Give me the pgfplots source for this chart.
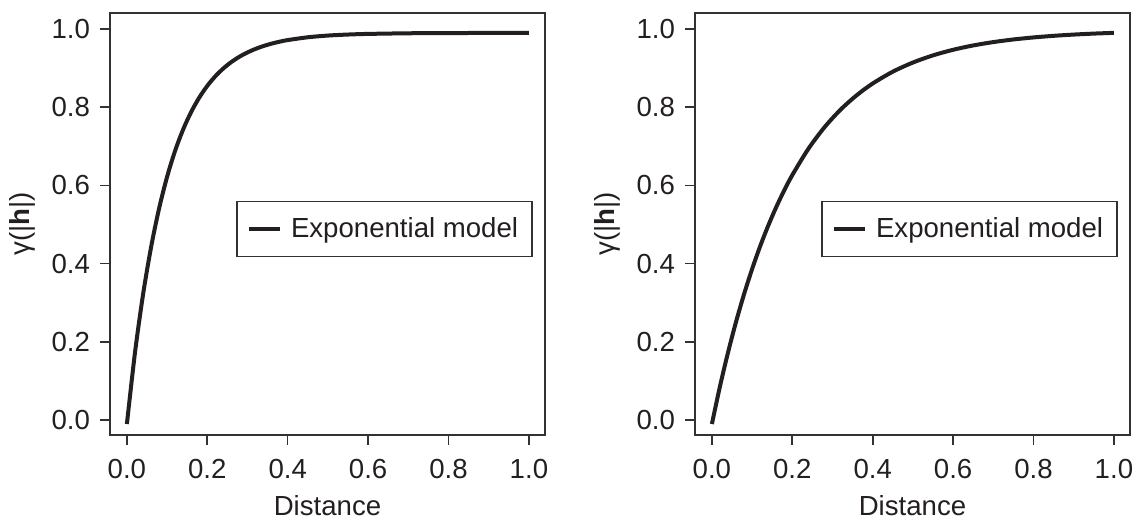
\documentclass[border=0pt]{standalone}
\usepackage{pgfplots}
\pgfplotsset{compat=1.18}
\usepackage{fontspec}
\setmainfont{Liberation Sans}
\definecolor{ink}{RGB}{35,31,32}
\definecolor{frame}{RGB}{50,50,50}

\pgfplotstableread{
x y
0.00 -0.0100
0.02 0.1713
0.04 0.3197
0.06 0.4412
0.08 0.5407
0.10 0.6221
0.12 0.6888
0.14 0.7434
0.16 0.7881
0.18 0.8247
0.20 0.8547
0.22 0.8792
0.24 0.8993
0.26 0.9157
0.28 0.9292
0.30 0.9402
0.32 0.9492
0.34 0.9566
0.36 0.9627
0.38 0.9676
0.40 0.9717
0.45 0.9789
0.50 0.9833
0.55 0.9859
0.60 0.9875
0.70 0.9891
0.80 0.9897
0.90 0.9899
1.00 0.9900
}\leftdata

\pgfplotstableread{
x y
0.00 -0.0100
0.02 0.0858
0.04 0.1725
0.06 0.2510
0.08 0.3220
0.10 0.3862
0.12 0.4444
0.14 0.4969
0.16 0.5445
0.18 0.5876
0.20 0.6265
0.24 0.6937
0.28 0.7487
0.32 0.7937
0.36 0.8305
0.40 0.8607
0.45 0.8909
0.50 0.9143
0.55 0.9326
0.60 0.9469
0.65 0.9580
0.70 0.9666
0.75 0.9733
0.80 0.9785
0.85 0.9826
0.90 0.9858
0.95 0.9883
1.00 0.9902
}\rightdata

\pgfplotsset{
  vario/.style={
    scale only axis,
    width=217.5pt, height=211pt,
    xmin=-0.042, xmax=1.04,
    ymin=-0.038, ymax=1.041,
    xtick={0,0.2,0.4,0.6,0.8,1.0},
    ytick={0,0.2,0.4,0.6,0.8,1.0},
    xticklabels={0.0,0.2,0.4,0.6,0.8,1.0},
    yticklabels={0.0,0.2,0.4,0.6,0.8,1.0},
    tick align=outside,
    major tick length=5pt,
    axis line style={frame, line width=0.8pt},
    every tick/.style={frame, line width=0.8pt},
    xtick pos=bottom, ytick pos=left,
    tick label style={font=\fontsize{13.8}{16}\selectfont, text=ink},
    /pgf/number format/assume math mode=true,
    xticklabel shift=3.5pt,
    yticklabel shift=1.5pt,
    label style={font=\fontsize{13.8}{16}\selectfont, text=ink},
    xlabel={Distance},
    ylabel={γ(|\textbf{h}|)},
    xlabel style={at={(axis description cs:0.5,-0.19)}, anchor=base},
    ylabel style={at={(axis description cs:-0.202,0.5)}, anchor=center},
    legend style={at={(axis description cs:0.972,0.488)}, anchor=east,
      draw=frame, line width=0.7pt, font=\fontsize{13.8}{16}\selectfont,
      text=ink, inner xsep=5pt, inner ysep=6pt,
      legend cell align=left},
    legend image code/.code={\draw[ink, line width=2.2pt] (0pt,0pt) -- (15.5pt,0pt); \path (18pt,0pt);},
  }
}

\begin{document}
\begin{tikzpicture}
\begin{axis}[vario]
\addplot[ink, line width=2pt, smooth] table[x=x,y=y] {\leftdata};
\addlegendentry{Exponential model}
\end{axis}
\begin{axis}[vario, at={(292.5pt,0pt)}]
\addplot[ink, line width=2pt, smooth] table[x=x,y=y] {\rightdata};
\addlegendentry{Exponential model}
\end{axis}
\pgfresetboundingbox
\path[use as bounding box] (-55pt,-43.5pt) rectangle (513pt,217.5pt);
\end{tikzpicture}
\end{document}
